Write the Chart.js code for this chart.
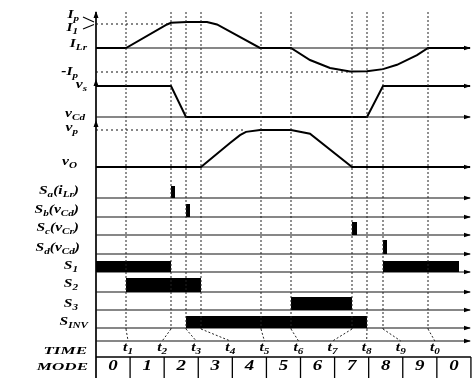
<!DOCTYPE html>
<html><head><meta charset="utf-8">
<script src="https://cdn.jsdelivr.net/npm/chart.js@4"></script>
<style>html,body{margin:0;padding:0;background:#fff}#wrap{width:474px;height:378px;position:relative}</style>
</head><body><div id="wrap"><canvas id="c"></canvas></div>
<script>
// ================= DATA =================
// event instants t1..t9,t0 (time units along the diagram)
const eventSubs  = ['1','2','3','4','5','6','7','8','9','0'];
const eventTimes = [30, 75, 90, 105, 165, 195, 256, 271, 287, 332];
const modeLabels = ['0','1','2','3','4','5','6','7','8','9','0'];
const timeEnd = 374;

// resonant current i_Lr (in units of I_p)
const iLrT = [0, 30, 71, 75, 91, 111, 121, 164, 195, 214, 234, 254, 271, 287, 301, 321, 332, 374];
const iLrV = [0, 0, 0.98, 1.05, 1.08, 1.08, 0.98, 0, 0, -0.5, -0.83, -0.98, -0.97, -0.88, -0.7, -0.3, 0, 0];

// v_Cd (in units of v_s)
const vCdT = [0, 75, 90, 271, 287, 374];
const vCdV = [1, 1, 0, 0, 1, 1];

// v_O (in units of v_p)
const vOT = [0, 105, 134, 144, 150, 164, 195, 214, 256, 374];
const vOV = [0, 0, 0.65, 0.86, 0.95, 1.0, 1.0, 0.9, 0, 0];

// switch on-intervals [start, end]
const SaOn   = [[75, 79]];
const SbOn   = [[90, 94]];
const ScOn   = [[256, 261]];
const SdOn   = [[287, 291]];
const S1On   = [[0, 75], [287, 363]];
const S2On   = [[30, 105]];
const S3On   = [[195, 256]];
const SinvOn = [[90, 271]];

// reference (dotted) levels: [level, endTime]
const IpRef  = [1, 75];
const mIpRef = [-1, 256];
const vpRef  = [1, 150];

// label texts (_{...} = subscript)
const rowLabels = ['I_{p}','I_{1}','I_{Lr}','-I_{p}','v_{s}','v_{Cd}','v_{p}','v_{O}',
  'S_{a}(i_{Lr})','S_{b}(v_{Cd})','S_{c}(v_{Cr})','S_{d}(v_{Cd})','S_{1}','S_{2}','S_{3}','S_{INV}','TIME','MODE'];

// ================= LAYOUT (positions / sizes) =================
const L = {
  iLr:{base:48, amp:24}, vCd:{base:117, amp:31}, vO:{base:167, amp:37},
  Sa:{base:198,h:12}, Sb:{base:217,h:13}, Sc:{base:235,h:13}, Sd:{base:254,h:14},
  S1:{base:272,h:11}, S2:{base:292,h:14}, S3:{base:310,h:13}, Sinv:{base:328,h:12},
  timeAxis:341, vTop:12, vBottom:329, modeTop:357, modeText:366, timeText:348,
  labelY:[15,28,44,72,85,114,128,162,191,210,228,248,266,284,304,322,351,367],
  labelRight:[79,78,87,78,87,85,78,77,79,79,79,80,78,78,78,88,87,88]
};
const FONT = '"Liberation Serif","DejaVu Serif",serif';

function wave(T, V, row){ return T.map((t,i)=>({x:t, y: row.base - V[i]*row.amp})); }

const datasets = [];
// dashed event lines
eventTimes.forEach(t=>{
  datasets.push({data:[{x:t,y:L.vTop},{x:t,y:L.vBottom}], borderColor:'#222', borderWidth:1, borderDash:[2,2], pointRadius:0, fill:false});
});
// dotted reference lines
[[IpRef,L.iLr],[mIpRef,L.iLr],[vpRef,L.vO]].forEach(([r,row])=>{
  datasets.push({data:[{x:0,y:row.base-r[0]*row.amp},{x:r[1],y:row.base-r[0]*row.amp}], borderColor:'#111', borderWidth:1.2, borderDash:[2,3], pointRadius:0, fill:false});
});
// waveforms
datasets.push({data:wave(iLrT,iLrV,L.iLr), borderColor:'#000', borderWidth:2, pointRadius:0, fill:false});
datasets.push({data:wave(vCdT,vCdV,L.vCd), borderColor:'#000', borderWidth:2, pointRadius:0, fill:false});
datasets.push({data:wave(vOT,vOV,L.vO), borderColor:'#000', borderWidth:2, pointRadius:0, fill:false});
// switch pulses / bars
[[SaOn,L.Sa],[SbOn,L.Sb],[ScOn,L.Sc],[SdOn,L.Sd],[S1On,L.S1],[S2On,L.S2],[S3On,L.S3],[SinvOn,L.Sinv]].forEach(([ivs,row])=>{
  ivs.forEach(([s,e])=>{
    datasets.push({data:[{x:s,y:row.base-row.h},{x:e,y:row.base-row.h}], borderColor:'#000', borderWidth:0, backgroundColor:'#000', pointRadius:0, fill:{value:row.base}});
  });
});
datasets.forEach(d=>{d.clip=false; d.tension=0;});

function parseRich(s){
  const parts=[]; let i=0;
  while(i<s.length){
    if(s[i]==='_' && s[i+1]==='{'){ const j=s.indexOf('}',i); parts.push([s.slice(i+2,j),1]); i=j+1; }
    else { let j=i; while(j<s.length && !(s[j]==='_'&&s[j+1]==='{')) j++; parts.push([s.slice(i,j),0]); i=j; }
  }
  return parts;
}
function drawRich(ctx, str, x, y, size, sx, align){
  const parts=parseRich(str);
  let w=0;
  parts.forEach(([t,sub])=>{ ctx.font='italic bold '+(sub?size*0.72:size)+'px '+FONT; w+=ctx.measureText(t).width; });
  ctx.save(); ctx.translate(x,y); ctx.scale(sx,1);
  let cx = align==='right' ? -w : (align==='center' ? -w/2 : 0);
  ctx.textBaseline='middle'; ctx.textAlign='left'; ctx.fillStyle='#000';
  parts.forEach(([t,sub])=>{
    ctx.font='italic bold '+(sub?size*0.72:size)+'px '+FONT;
    ctx.fillText(t, cx, sub? size*0.3 : 0);
    cx += ctx.measureText(t).width;
  });
  ctx.restore();
}
function arrowRight(ctx,x,y){ ctx.beginPath(); ctx.moveTo(x+1,y); ctx.lineTo(x-6,y-2.2); ctx.lineTo(x-6,y+2.2); ctx.closePath(); ctx.fill(); }
function arrowUp(ctx,x,y){ ctx.beginPath(); ctx.moveTo(x,y-1); ctx.lineTo(x-2.5,y+6); ctx.lineTo(x+2.5,y+6); ctx.closePath(); ctx.fill(); }

const decor = {
  id:'decor',
  beforeDatasetsDraw(chart){
    const {ctx, scales:{x,y}} = chart;
    const x0=x.getPixelForValue(0), x1=x.getPixelForValue(timeEnd);
    ctx.save(); ctx.strokeStyle='#111'; ctx.fillStyle='#000'; ctx.lineWidth=1.2;
    const bases=[L.iLr.base,L.vCd.base,L.vO.base,L.Sa.base,L.Sb.base,L.Sc.base,L.Sd.base,L.S1.base,L.S2.base,L.S3.base,L.Sinv.base,L.timeAxis];
    bases.forEach(b=>{ const py=y.getPixelForValue(b); ctx.beginPath(); ctx.moveTo(x0,py); ctx.lineTo(x1,py); ctx.stroke(); arrowRight(ctx,x1,py); });
    // v_s high-level arrow
    arrowRight(ctx,x1,y.getPixelForValue(L.vCd.base-L.vCd.amp));
    // vertical axis
    ctx.lineWidth=1.8; ctx.beginPath(); ctx.moveTo(x0,y.getPixelForValue(L.vTop)); ctx.lineTo(x0,378); ctx.stroke();
    [L.vTop, 80, 121].forEach(v=>arrowUp(ctx,x0,y.getPixelForValue(v)));
    // leaders from event lines to time labels
    ctx.lineWidth=1; ctx.setLineDash([2,2]); ctx.strokeStyle='#222';
    const mw = timeEnd/ modeLabels.length * 1.0025;
    eventTimes.forEach((t,i)=>{
      const lx = x.getPixelForValue((i+1)*mw - 2);
      ctx.beginPath(); ctx.moveTo(x.getPixelForValue(t), y.getPixelForValue(L.vBottom)); ctx.lineTo(lx, y.getPixelForValue(L.timeAxis)); ctx.stroke();
    });
    ctx.setLineDash([]);
    // mode box
    ctx.lineWidth=1.3; ctx.strokeStyle='#000';
    const mt=y.getPixelForValue(L.modeTop);
    ctx.beginPath(); ctx.moveTo(x0,mt); ctx.lineTo(x.getPixelForValue(modeLabels.length*mw),mt); ctx.stroke();
    for(let i=1;i<=modeLabels.length;i++){ const px=x.getPixelForValue(i*mw); ctx.beginPath(); ctx.moveTo(px,mt); ctx.lineTo(px,378); ctx.stroke(); }
    ctx.restore();
  },
  afterDatasetsDraw(chart){
    const {ctx, scales:{x,y}} = chart;
    const left = chart.chartArea.left;
    ctx.save();
    rowLabels.forEach((s,i)=>{
      const isCap = (s==='TIME'||s==='MODE');
      drawRich(ctx, s, L.labelRight[i], y.getPixelForValue(L.labelY[i]), isCap?11:11.5, isCap?1.55:1.35, 'right');
    });
    // pointer lines for I_p and I_1
    ctx.strokeStyle='#000'; ctx.lineWidth=1.1;
    ctx.beginPath(); ctx.moveTo(83,17); ctx.lineTo(94,22); ctx.stroke();
    ctx.beginPath(); ctx.moveTo(83,29); ctx.lineTo(94,24.5); ctx.stroke();
    // time labels
    const mw = timeEnd/ modeLabels.length * 1.0025;
    eventSubs.forEach((s,i)=>{
      drawRich(ctx, 't_{'+s+'}', x.getPixelForValue((i+1)*mw - 2), y.getPixelForValue(L.timeText), 12, 1.3, 'center');
    });
    modeLabels.forEach((m,i)=>{
      drawRich(ctx, m, x.getPixelForValue((i+0.5)*mw), y.getPixelForValue(L.modeText), 14, 1.35, 'center');
    });
    ctx.restore();
  }
};

new Chart(document.getElementById('c'), {
  type:'line',
  data:{datasets},
  options:{
    responsive:true, maintainAspectRatio:false, animation:false,
    layout:{padding:{left:96,right:4,top:0,bottom:0}},
    parsing:true,
    plugins:{legend:{display:false}, tooltip:{enabled:false}},
    scales:{
      x:{type:'linear', min:0, max:timeEnd, display:false},
      y:{type:'linear', min:0, max:378, reverse:true, display:false}
    },
    elements:{line:{borderCapStyle:'butt'}}
  },
  plugins:[decor]
});
</script></body></html>
